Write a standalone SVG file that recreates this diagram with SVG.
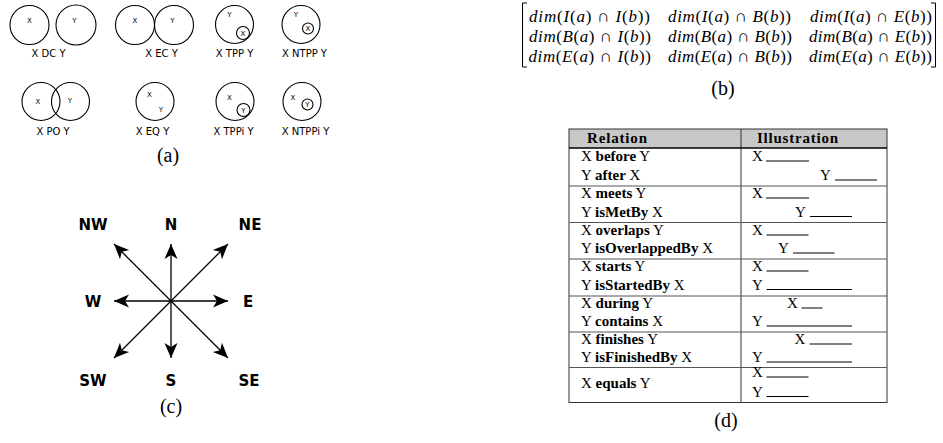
<svg xmlns="http://www.w3.org/2000/svg" width="943" height="443" viewBox="0 0 943 443">
<style>
.c{fill:none;stroke:#000;stroke-width:1.1}
.in{font-family:"DejaVu Sans",sans-serif;font-size:7px;text-anchor:middle;fill:#000}
.lb{font-family:"DejaVu Sans",sans-serif;font-size:10px;text-anchor:middle;fill:#000}
.cap{font-family:"Liberation Serif",serif;font-size:20px;text-anchor:middle;fill:#000}
.dir{font-family:"DejaVu Sans",sans-serif;font-weight:bold;font-size:15px;text-anchor:middle;fill:#000}
.ar{stroke:#000;stroke-width:1.3;fill:none;marker-end:url(#ah)}
.m{font-family:"Liberation Serif",serif;font-size:17px;fill:#000}
.i{font-style:italic}
.t{font-family:"Liberation Serif",serif;font-size:15px;fill:#000}
.b{font-weight:bold}
.ul{stroke:#000;stroke-width:1}
.div{stroke:#555;stroke-width:1}
.br{fill:none;stroke:#000;stroke-width:1}
</style>
<defs>
<marker id="ah" markerUnits="userSpaceOnUse" markerWidth="18" markerHeight="16" viewBox="-16 -8 18 16" refX="0" refY="0" orient="auto">
<path d="M0,0 L-15,-6.5 L-11,0 L-15,6.5 Z" fill="#000"/>
</marker>
</defs>

<!-- (a) RCC8 -->
<g id="dc">
<circle class="c" cx="29.5" cy="25" r="19.5"/><circle class="c" cx="76" cy="25" r="20"/>
<text class="in" x="29.5" y="23">X</text><text class="in" x="74.5" y="23">Y</text>
<text class="lb" x="48.5" y="57">X DC Y</text>
</g>
<g id="ec">
<circle class="c" cx="135" cy="25" r="19.5"/><circle class="c" cx="174" cy="25" r="19.5"/>
<text class="in" x="135" y="23">X</text><text class="in" x="172.5" y="23">Y</text>
<text class="lb" x="161.5" y="57">X EC Y</text>
</g>
<g id="tpp">
<circle class="c" cx="234.5" cy="24.5" r="19"/><circle class="c" cx="243" cy="33" r="6.5"/>
<text class="in" x="229.5" y="16.5">Y</text><text class="in" x="243" y="35.5">X</text>
<text class="lb" x="234.5" y="57">X TPP Y</text>
</g>
<g id="ntpp">
<circle class="c" cx="301" cy="24.5" r="19"/><circle class="c" cx="308" cy="28.5" r="5.5"/>
<text class="in" x="296" y="16.5">Y</text><text class="in" x="308" y="31">X</text>
<text class="lb" x="304.5" y="57">X NTPP Y</text>
</g>
<g id="po">
<circle class="c" cx="41" cy="101.5" r="19"/><circle class="c" cx="70.5" cy="101.5" r="19"/>
<text class="in" x="38" y="103.5">X</text><text class="in" x="70" y="102.5">Y</text>
<text class="lb" x="53" y="135">X PO Y</text>
</g>
<g id="eq">
<circle class="c" cx="155" cy="101.5" r="19"/>
<text class="in" x="149.5" y="96.5">X</text><text class="in" x="161" y="111.5">Y</text>
<text class="lb" x="152.5" y="135">X EQ Y</text>
</g>
<g id="tppi">
<circle class="c" cx="235" cy="101.5" r="19"/><circle class="c" cx="243.5" cy="110" r="6.5"/>
<text class="in" x="229.5" y="99.5">X</text><text class="in" x="243.5" y="112.5">Y</text>
<text class="lb" x="233.5" y="135">X TPPi Y</text>
</g>
<g id="ntppi">
<circle class="c" cx="302" cy="101.5" r="19"/><circle class="c" cx="307.5" cy="104.5" r="5.5"/>
<text class="in" x="293" y="100">X</text><text class="in" x="307.5" y="107">Y</text>
<text class="lb" x="305.5" y="135">X NTPPi Y</text>
</g>
<text class="cap" x="168" y="162">(a)</text>

<!-- (b) 9-intersection matrix -->
<g id="matrix">
<path class="br" d="M527,3 H522.5 V67 H527"/>
<path class="br" d="M931,3 H935.5 V67 H931"/>
<text class="m" x="529" y="21.5" textLength="121"><tspan class="i">dim</tspan>(<tspan class="i">I</tspan>(<tspan class="i">a</tspan>) ∩ <tspan class="i">I</tspan>(<tspan class="i">b</tspan>))</text>
<text class="m" x="668" y="21.5" textLength="123"><tspan class="i">dim</tspan>(<tspan class="i">I</tspan>(<tspan class="i">a</tspan>) ∩ <tspan class="i">B</tspan>(<tspan class="i">b</tspan>))</text>
<text class="m" x="810" y="21.5" textLength="122"><tspan class="i">dim</tspan>(<tspan class="i">I</tspan>(<tspan class="i">a</tspan>) ∩ <tspan class="i">E</tspan>(<tspan class="i">b</tspan>))</text>
<text class="m" x="529" y="41.5" textLength="122"><tspan class="i">dim</tspan>(<tspan class="i">B</tspan>(<tspan class="i">a</tspan>) ∩ <tspan class="i">I</tspan>(<tspan class="i">b</tspan>))</text>
<text class="m" x="668" y="41.5" textLength="124"><tspan class="i">dim</tspan>(<tspan class="i">B</tspan>(<tspan class="i">a</tspan>) ∩ <tspan class="i">B</tspan>(<tspan class="i">b</tspan>))</text>
<text class="m" x="809" y="41.5" textLength="123"><tspan class="i">dim</tspan>(<tspan class="i">B</tspan>(<tspan class="i">a</tspan>) ∩ <tspan class="i">E</tspan>(<tspan class="i">b</tspan>))</text>
<text class="m" x="528.5" y="61.5" textLength="122.5"><tspan class="i">dim</tspan>(<tspan class="i">E</tspan>(<tspan class="i">a</tspan>) ∩ <tspan class="i">I</tspan>(<tspan class="i">b</tspan>))</text>
<text class="m" x="668" y="61.5" textLength="124"><tspan class="i">dim</tspan>(<tspan class="i">E</tspan>(<tspan class="i">a</tspan>) ∩ <tspan class="i">B</tspan>(<tspan class="i">b</tspan>))</text>
<text class="m" x="809" y="61.5" textLength="123"><tspan class="i">dim</tspan>(<tspan class="i">E</tspan>(<tspan class="i">a</tspan>) ∩ <tspan class="i">E</tspan>(<tspan class="i">b</tspan>))</text>
</g>
<text class="cap" x="723" y="95">(b)</text>

<!-- (c) compass -->
<g id="connectors">
<line class="ar" x1="171" y1="301" x2="171" y2="244"/>
<line class="ar" x1="171" y1="301" x2="171" y2="358"/>
<line class="ar" x1="171" y1="301" x2="114" y2="301"/>
<line class="ar" x1="171" y1="301" x2="228" y2="301"/>
<line class="ar" x1="171" y1="301" x2="114" y2="244"/>
<line class="ar" x1="171" y1="301" x2="228" y2="244"/>
<line class="ar" x1="171" y1="301" x2="114" y2="358"/>
<line class="ar" x1="171" y1="301" x2="228" y2="358"/>
</g>
<g id="nw"><text class="dir" x="93" y="229.5">NW</text></g>
<g id="n"><text class="dir" x="171" y="229.5">N</text></g>
<g id="ne"><text class="dir" x="250" y="229.5">NE</text></g>
<g id="w"><text class="dir" x="93" y="306.5">W</text></g>
<g id="e"><text class="dir" x="248" y="306.5">E</text></g>
<g id="sw"><text class="dir" x="93" y="385.5">SW</text></g>
<g id="s"><text class="dir" x="171" y="385.5">S</text></g>
<g id="se"><text class="dir" x="249" y="385.5">SE</text></g>
<text class="cap" x="171" y="413">(c)</text>

<!-- (d) Allen table -->
<g id="table">
<rect x="569" y="129" width="318" height="19" fill="#c8c8c8"/>
<rect x="569" y="129" width="318" height="273.5" fill="none" stroke="#333" stroke-width="1"/>
<line x1="741" y1="129" x2="741" y2="402.5" stroke="#333" stroke-width="1"/>
<line x1="569" y1="148" x2="887" y2="148" stroke="#000" stroke-width="1.6"/>
<line class="div" x1="569" y1="186" x2="887" y2="186"/>
<line class="div" x1="569" y1="222.5" x2="887" y2="222.5"/>
<line class="div" x1="569" y1="259" x2="887" y2="259"/>
<line class="div" x1="569" y1="296" x2="887" y2="296"/>
<line class="div" x1="569" y1="332" x2="887" y2="332"/>
<line class="div" x1="569" y1="367.5" x2="887" y2="367.5"/>
<text class="t b" x="587" y="143" textLength="60">Relation</text>
<text class="t b" x="757" y="143" textLength="81">Illustration</text>
</g>
<g id="before">
<text class="t" x="581" y="161">X <tspan class="b">before</tspan> Y</text>
<text class="t" x="581" y="180">Y <tspan class="b">after</tspan> X</text>
<text class="t" x="752" y="161">X</text><line class="ul" x1="766" y1="161" x2="809" y2="161"/>
<text class="t" x="820" y="180">Y</text><line class="ul" x1="835" y1="180" x2="877" y2="180"/>
</g>
<g id="meets">
<text class="t" x="581" y="198">X <tspan class="b">meets</tspan> Y</text>
<text class="t" x="581" y="216.5">Y <tspan class="b">isMetBy</tspan> X</text>
<text class="t" x="752" y="198">X</text><line class="ul" x1="766" y1="198" x2="809" y2="198"/>
<text class="t" x="795" y="216.5">Y</text><line class="ul" x1="810" y1="216.5" x2="852" y2="216.5"/>
</g>
<g id="overlaps">
<text class="t" x="581" y="235">X <tspan class="b">overlaps</tspan> Y</text>
<text class="t" x="581" y="253">Y <tspan class="b">isOverlappedBy</tspan> X</text>
<text class="t" x="752" y="235">X</text><line class="ul" x1="766.5" y1="235" x2="808.5" y2="235"/>
<text class="t" x="778" y="253">Y</text><line class="ul" x1="793" y1="253" x2="834.5" y2="253"/>
</g>
<g id="starts">
<text class="t" x="581" y="271">X <tspan class="b">starts</tspan> Y</text>
<text class="t" x="581" y="289.5">Y <tspan class="b">isStartedBy</tspan> X</text>
<text class="t" x="752" y="271">X</text><line class="ul" x1="766.5" y1="271" x2="808.5" y2="271"/>
<text class="t" x="752" y="289.5">Y</text><line class="ul" x1="766.5" y1="289.5" x2="852" y2="289.5"/>
</g>
<g id="during">
<text class="t" x="581" y="308">X <tspan class="b">during</tspan> Y</text>
<text class="t" x="581" y="326">Y <tspan class="b">contains</tspan> X</text>
<text class="t" x="787" y="308">X</text><line class="ul" x1="801.5" y1="308" x2="822.5" y2="308"/>
<text class="t" x="752" y="326">Y</text><line class="ul" x1="766.5" y1="326" x2="852" y2="326"/>
</g>
<g id="finishes">
<text class="t" x="581" y="344">X <tspan class="b">finishes</tspan> Y</text>
<text class="t" x="581" y="362">Y <tspan class="b">isFinishedBy</tspan> X</text>
<text class="t" x="794.5" y="344">X</text><line class="ul" x1="809.5" y1="344" x2="852" y2="344"/>
<text class="t" x="752" y="362">Y</text><line class="ul" x1="766.5" y1="362" x2="852" y2="362"/>
</g>
<g id="equals">
<text class="t" x="581" y="388">X <tspan class="b">equals</tspan> Y</text>
<text class="t" x="752" y="377">X</text><line class="ul" x1="766.5" y1="377" x2="808.5" y2="377"/>
<text class="t" x="752" y="396.5">Y</text><line class="ul" x1="766.5" y1="396.5" x2="808.5" y2="396.5"/>
</g>
<text class="cap" x="726" y="427">(d)</text>
</svg>
